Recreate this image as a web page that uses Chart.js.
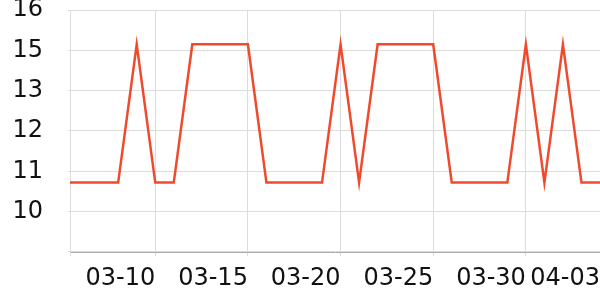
<!DOCTYPE html>
<html lang="en">
<head>
    <meta charset="UTF-8">
    <title>Line Chart</title>
    <script src="https://cdn.jsdelivr.net/npm/chart.js"></script>
    <style>
        body { margin: 0; background: #fff; }
        #wrap { width: 600px; height: 300px; }
    </style>
</head>
<body>
    <div id="wrap"><canvas id="chart"></canvas></div>
    <script>
        // days shown on the chart
        const dates = ['03-05', '03-06', '03-07', '03-08', '03-09', '03-10', '03-11', '03-12', '03-13', '03-14',
            '03-15', '03-16', '03-17', '03-18', '03-19', '03-20', '03-21', '03-22', '03-23', '03-24',
            '03-25', '03-26', '03-27', '03-28', '03-29', '03-30', '03-31', '04-01', '04-02', '04-03'];
        const values = [10.7, 10.7, 10.7, 10.7, 14.77, 10.7, 10.7, 14.77, 14.77, 14.77,
            14.77, 10.7, 10.7, 10.7, 10.7, 14.77, 10.7, 14.77, 14.77, 14.77,
            14.77, 10.7, 10.7, 10.7, 10.7, 14.77, 10.7, 14.77, 10.7, 10.7];

        // x tick labels
        const xTickLabels = ['03-10', '03-15', '03-20', '03-25', '03-30', '04-03'];
        const xStart = 0.4; // axis begins a little after the first day

        // y axis (log scale) tick values and their labels
        const yTickValues = [9.103, 10.0, 10.985, 12.068, 13.257, 14.564, 16.0];
        const yTickLabels = ['', '10', '11', '12', '13', '15', '16'];

        const points = values.map((v, i) => ({ x: i, y: v }));

        const ctx = document.getElementById('chart').getContext('2d');
        new Chart(ctx, {
            type: 'line',
            data: {
                datasets: [{
                    data: points,
                    borderColor: '#f04a2e',
                    borderWidth: 2.5,
                    pointRadius: 0,
                    tension: 0,
                    fill: false
                }]
            },
            options: {
                responsive: true,
                maintainAspectRatio: false,
                animation: false,
                layout: { padding: { left: 14, right: 0, top: 10, bottom: 0 } },
                plugins: { legend: { display: false }, tooltip: { enabled: false } },
                scales: {
                    x: {
                        type: 'linear',
                        min: xStart,
                        max: dates.length - 1,
                        afterBuildTicks: (axis) => {
                            axis.ticks = [{ value: xStart }].concat(
                                xTickLabels.map(d => ({ value: dates.indexOf(d) })));
                        },
                        afterFit: (axis) => {
                            axis.height = 48;
                            axis.paddingLeft = 0;
                            axis.paddingRight = 0;
                        },
                        ticks: {
                            align: 'end',
                            maxRotation: 0,
                            autoSkip: false,
                            padding: 8,
                            color: '#111',
                            font: { family: 'DejaVu Sans', size: 24 },
                            callback: (value) => {
                                const i = Math.round(value);
                                return Math.abs(value - i) < 0.01 ? dates[i] : '';
                            }
                        },
                        grid: { color: '#dcdcdc', tickLength: 4 },
                        border: { color: '#aaaaaa' }
                    },
                    y: {
                        type: 'logarithmic',
                        min: yTickValues[0],
                        max: yTickValues[yTickValues.length - 1],
                        afterBuildTicks: (axis) => {
                            axis.ticks = yTickValues.map(v => ({ value: v }));
                        },
                        afterFit: (axis) => {
                            axis.width = 56;
                            axis.paddingTop = 0;
                            axis.paddingBottom = 0;
                        },
                        ticks: {
                            padding: 25,
                            color: '#111',
                            font: { family: 'DejaVu Sans', size: 24 },
                            callback: (value, index) => yTickLabels[index]
                        },
                        grid: { color: '#dcdcdc', tickLength: 2 },
                        border: { color: '#dcdcdc' }
                    }
                }
            }
        });
    </script>
</body>
</html>
